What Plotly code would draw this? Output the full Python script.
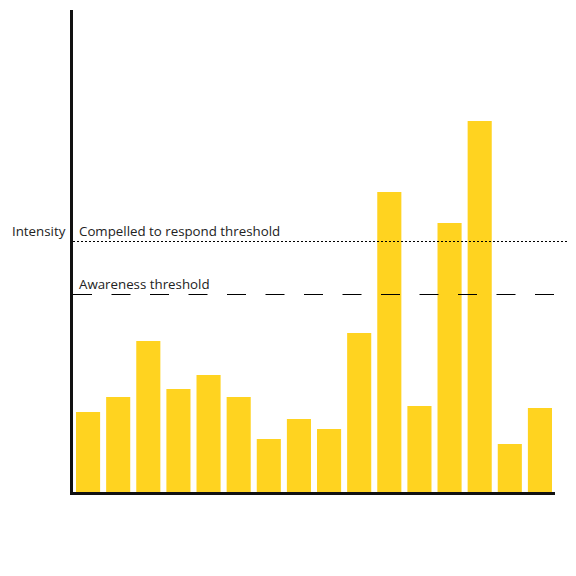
import plotly.graph_objects as go

# bar heights (arbitrary intensity units)
events = [str(i) for i in range(1, 17)]
intensity = [80, 95, 151, 103, 117, 95, 53, 73, 63, 159, 300, 86, 269, 371, 48, 84]

respond_threshold = 250.5
awareness_threshold = 197.5
y_max = 482

fig = go.Figure()
fig.add_trace(go.Bar(x=events, y=intensity, marker_color="#FFD320",
                     marker_line_width=0))

# threshold lines
fig.add_shape(type="line", xref="paper", yref="y", x0=0, x1=1.027,
              y0=respond_threshold, y1=respond_threshold,
              line=dict(color="#000", width=1, dash="2px,2px"))
fig.add_shape(type="line", xref="paper", yref="y", x0=0, x1=1,
              y0=awareness_threshold, y1=awareness_threshold,
              line=dict(color="#000", width=1, dash="19px,19.5px"))

fnt = dict(family="Open Sans", size=13.3, color="#222")
fig.add_annotation(text="Compelled to respond threshold", xref="paper", yref="y",
                   x=0.0, y=respond_threshold, xanchor="left", yanchor="bottom",
                   xshift=4, showarrow=False, font=fnt)
fig.add_annotation(text="Awareness threshold", xref="paper", yref="y",
                   x=0.0, y=awareness_threshold, xanchor="left", yanchor="bottom",
                   xshift=4, showarrow=False, font=fnt)
fig.add_annotation(text="Intensity", xref="paper", yref="y",
                   x=0.0, y=respond_threshold, xanchor="right", yanchor="bottom",
                   xshift=-5, showarrow=False, font=fnt)

fig.update_layout(
    width=576, height=576,
    margin=dict(l=65, r=29, t=2, b=92),
    plot_bgcolor="white", paper_bgcolor="white",
    bargap=0.2, showlegend=False,
    xaxis=dict(showticklabels=False, ticks="", showgrid=False, zeroline=False,
               showline=True, linecolor="#111", linewidth=3),
    yaxis=dict(range=[0, y_max], showticklabels=False, ticks="", showgrid=False,
               zeroline=False, showline=True, linecolor="#111", linewidth=3),
)

fig.write_html("out.html")
